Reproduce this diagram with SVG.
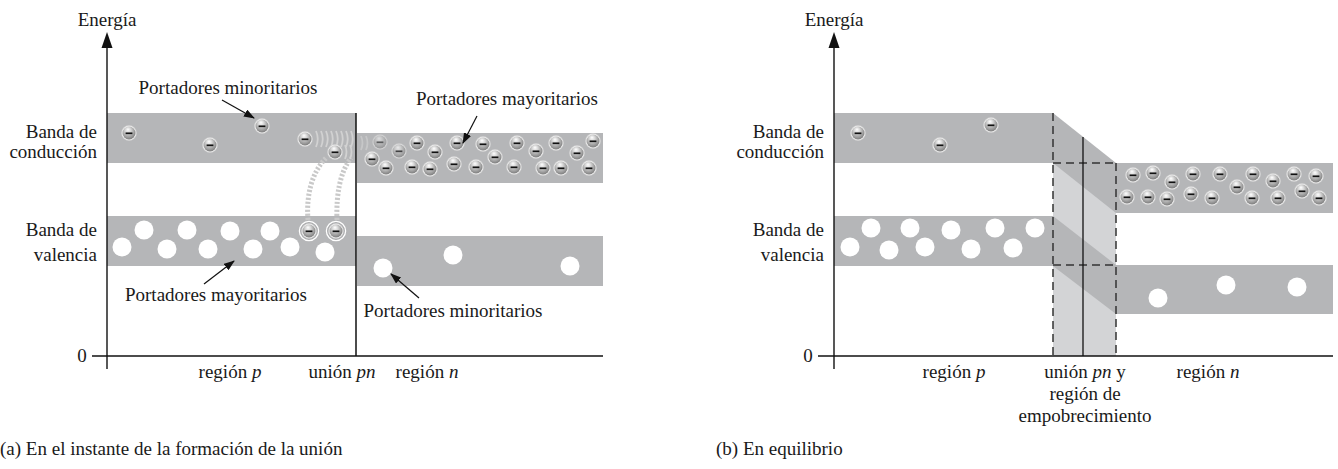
<svg xmlns="http://www.w3.org/2000/svg" width="1338" height="469" viewBox="0 0 1338 469">
<style>
text{font-family:"Liberation Serif","Times New Roman",serif;font-size:19px;fill:#1a1a1a}
.m{text-anchor:middle}.e{text-anchor:end}
.it{font-style:italic}
.band{fill:#b5b6b8}
.light{fill:#d3d4d6}
.ax{stroke:#111;stroke-width:1.4;fill:none}
.jn{stroke:#111;stroke-width:1.5}
.dash{stroke:#333;stroke-width:1.5;stroke-dasharray:8 5;fill:none}
.hole{fill:#fff}
.lbl{stroke:#111;stroke-width:1.2;marker-end:url(#ah)}
.spring{stroke:#c9c9c9;stroke-width:5;stroke-dasharray:2.2 1.8;fill:none}
.wave{stroke:#d2d2d2;stroke-width:1.8;fill:none}
</style>
<defs>
<radialGradient id="eg" cx="0.45" cy="0.4" r="0.62" fx="0.42" fy="0.22">
<stop offset="0" stop-color="#ffffff"/>
<stop offset="0.35" stop-color="#d6d6d6"/>
<stop offset="0.8" stop-color="#979797"/>
<stop offset="1" stop-color="#7a7a7a"/>
</radialGradient>
<g id="el">
<circle r="7.5" fill="#f2f2f2" stroke="#cfcfcf" stroke-width="0.6"/>
<circle r="6.5" fill="url(#eg)"/>
<line x1="-3.4" x2="3.4" y1="0.3" y2="0.3" stroke="#111" stroke-width="1.7"/>
</g>
<g id="elr">
<circle r="9.6" fill="#a9aaac" stroke="#ffffff" stroke-width="1.3"/>
<use href="#el"/>
</g>
<marker id="ah" markerWidth="11" markerHeight="8" refX="10" refY="4" orient="auto" markerUnits="userSpaceOnUse">
<path d="M0,0 L11,4 L0,8 z" fill="#111"/>
</marker>
</defs>

<!-- ============ LEFT DIAGRAM (a) ============ -->
<g id="bands-a">
<rect class="band" x="107" y="113" width="249" height="50"/>
<rect class="band" x="357" y="133" width="246" height="50"/>
<rect class="band" x="107" y="216" width="249" height="50"/>
<rect class="band" x="357" y="236" width="246" height="50"/>
</g>

<g id="waves-a">
<path class="spring" d="M308,220 C306,195 312,172 326,158"/>
<path class="spring" d="M337,220 C336,195 340,172 351,158"/>
<path class="wave" d="M316,131 q3.5,8 0,16 M321,131 q3.5,8 0,16 M326,131 q3.5,8 0,16 M331,131 q3.5,8 0,16 M336,131 q3.5,8 0,16 M341,131 q3.5,8 0,16 M346,131 q3.5,8 0,16 M351,131 q3.5,8 0,16"/>
<path class="wave" d="M345,145 q3,7 0,14 M350,145 q3,7 0,14"/>
<path class="wave" opacity="0.6" d="M361,136 q3,7 0,14 M366,136 q3,7 0,14"/>
</g>

<g id="axes-a">
<line class="ax" x1="107" y1="46" x2="107" y2="369"/>
<polygon points="107,32 101.5,48 112.5,48" fill="#111"/>
<line class="ax" x1="92" y1="356" x2="603" y2="356"/>
<line class="jn" x1="356" y1="113" x2="356" y2="356"/>
</g>

<g id="electrons-a">
<use href="#el" x="129" y="133"/>
<use href="#el" x="210" y="145"/>
<use href="#el" x="262" y="126"/>
<use href="#el" x="305" y="139"/>
<use href="#el" x="335" y="152"/>
<use href="#elr" x="309" y="231"/>
<use href="#elr" x="336" y="231"/>
<use href="#el" x="380" y="142" opacity="0.55"/>
<use href="#el" x="399" y="151" opacity="0.7"/>
<use href="#el" x="372" y="159"/>
<use href="#el" x="417" y="143"/>
<use href="#el" x="435" y="152"/>
<use href="#el" x="386" y="168"/>
<use href="#el" x="412" y="167"/>
<use href="#el" x="430" y="169"/>
<use href="#el" x="457" y="143"/>
<use href="#el" x="454" y="164"/>
<use href="#el" x="476" y="167"/>
<use href="#el" x="483" y="144"/>
<use href="#el" x="495" y="157"/>
<use href="#el" x="517" y="143"/>
<use href="#el" x="514" y="167"/>
<use href="#el" x="536" y="151"/>
<use href="#el" x="556" y="143"/>
<use href="#el" x="543" y="168"/>
<use href="#el" x="561" y="168"/>
<use href="#el" x="577" y="153"/>
<use href="#el" x="593" y="141"/>
<use href="#el" x="589" y="168"/>
</g>

<g id="holes-a">
<circle class="hole" cx="144" cy="230" r="9.5"/>
<circle class="hole" cx="187" cy="230" r="9.5"/>
<circle class="hole" cx="230" cy="231" r="9.5"/>
<circle class="hole" cx="270" cy="231" r="9.5"/>
<circle class="hole" cx="122" cy="247" r="9.5"/>
<circle class="hole" cx="167" cy="249" r="9.5"/>
<circle class="hole" cx="208" cy="249" r="9.5"/>
<circle class="hole" cx="253" cy="249" r="9.5"/>
<circle class="hole" cx="290" cy="247" r="9.5"/>
<circle class="hole" cx="325" cy="252" r="9.5"/>
<circle class="hole" cx="383" cy="268" r="9.5"/>
<circle class="hole" cx="453" cy="255" r="9.5"/>
<circle class="hole" cx="570" cy="266" r="9.5"/>
</g>

<g id="label-arrows-a">
<line class="lbl" x1="222" y1="100" x2="254" y2="118"/>
<line class="lbl" x1="477" y1="116" x2="463" y2="143"/>
<line class="lbl" x1="204" y1="284" x2="234" y2="261"/>
<line class="lbl" x1="419" y1="298" x2="391" y2="274"/>
</g>

<g id="text-a">
<text class="m" x="107" y="26">Energía</text>
<text class="e" x="97" y="138">Banda de</text>
<text class="e" x="97" y="158">conducción</text>
<text class="e" x="97" y="236">Banda de</text>
<text class="e" x="97" y="261">valencia</text>
<text class="m" x="82" y="362">0</text>
<text class="m" x="228" y="94">Portadores minoritarios</text>
<text class="m" x="507" y="105">Portadores mayoritarios</text>
<text class="m" x="216" y="301">Portadores mayoritarios</text>
<text class="m" x="453" y="317">Portadores minoritarios</text>
<text class="m" x="230" y="378">región <tspan class="it">p</tspan></text>
<text class="m" x="342" y="378">unión <tspan class="it">pn</tspan></text>
<text class="m" x="427" y="378">región <tspan class="it">n</tspan></text>
<text x="0" y="455">(a) En el instante de la formación de la unión</text>
</g>

<!-- ============ RIGHT DIAGRAM (b) ============ -->
<g id="bands-b">
<rect class="light" x="1053" y="163" width="63" height="193"/>
<rect class="band" x="834" y="113" width="219" height="50"/>
<rect class="band" x="834" y="216" width="219" height="50"/>
<polygon class="band" points="1053,113 1116,163 1116,213 1053,163"/>
<polygon class="band" points="1053,216 1116,265 1116,314 1053,266"/>
<rect class="band" x="1116" y="163" width="217" height="50"/>
<rect class="band" x="1116" y="265" width="217" height="49"/>
</g>

<g id="junction-b">
<line class="dash" x1="1053" y1="113" x2="1053" y2="356"/>
<line class="dash" x1="1116" y1="163" x2="1116" y2="356"/>
<line class="dash" x1="1053" y1="163" x2="1116" y2="163"/>
<line class="dash" x1="1053" y1="265" x2="1116" y2="265"/>
<line stroke="#111" stroke-width="1.3" x1="1083" y1="137" x2="1083" y2="356"/>
</g>

<g id="axes-b">
<line class="ax" x1="834" y1="46" x2="834" y2="369"/>
<polygon points="834,32 828.5,48 839.5,48" fill="#111"/>
<line class="ax" x1="818" y1="356" x2="1333" y2="356"/>
</g>

<g id="electrons-b">
<use href="#el" x="858" y="133"/>
<use href="#el" x="940" y="145"/>
<use href="#el" x="991" y="125"/>
<use href="#el" x="1133" y="175"/>
<use href="#el" x="1153" y="173"/>
<use href="#el" x="1172" y="182"/>
<use href="#el" x="1193" y="174"/>
<use href="#el" x="1220" y="174"/>
<use href="#el" x="1237" y="187"/>
<use href="#el" x="1253" y="174"/>
<use href="#el" x="1273" y="181"/>
<use href="#el" x="1294" y="174"/>
<use href="#el" x="1316" y="176"/>
<use href="#el" x="1127" y="197"/>
<use href="#el" x="1148" y="197"/>
<use href="#el" x="1167" y="199"/>
<use href="#el" x="1191" y="194"/>
<use href="#el" x="1212" y="198"/>
<use href="#el" x="1252" y="198"/>
<use href="#el" x="1278" y="198"/>
<use href="#el" x="1302" y="191"/>
<use href="#el" x="1319" y="198"/>
</g>

<g id="holes-b">
<circle class="hole" cx="871" cy="228" r="9.5"/>
<circle class="hole" cx="910" cy="228" r="9.5"/>
<circle class="hole" cx="951" cy="230" r="9.5"/>
<circle class="hole" cx="995" cy="228" r="9.5"/>
<circle class="hole" cx="1035" cy="228" r="9.5"/>
<circle class="hole" cx="850" cy="247" r="9.5"/>
<circle class="hole" cx="889" cy="250" r="9.5"/>
<circle class="hole" cx="925" cy="247" r="9.5"/>
<circle class="hole" cx="971" cy="249" r="9.5"/>
<circle class="hole" cx="1013" cy="248" r="9.5"/>
<circle class="hole" cx="1158" cy="298" r="9.5"/>
<circle class="hole" cx="1226" cy="285" r="9.5"/>
<circle class="hole" cx="1297" cy="287" r="9.5"/>
</g>

<g id="text-b">
<text class="m" x="834" y="26">Energía</text>
<text class="e" x="824" y="138">Banda de</text>
<text class="e" x="824" y="158">conducción</text>
<text class="e" x="824" y="236">Banda de</text>
<text class="e" x="824" y="261">valencia</text>
<text class="m" x="808" y="362">0</text>
<text class="m" x="954" y="378">región <tspan class="it">p</tspan></text>
<text class="m" x="1085" y="378">unión <tspan class="it">pn</tspan> y</text>
<text class="m" x="1085" y="400">región de</text>
<text class="m" x="1085" y="422">empobrecimiento</text>
<text class="m" x="1208" y="378">región <tspan class="it">n</tspan></text>
<text x="716" y="455">(b) En equilibrio</text>
</g>
</svg>
